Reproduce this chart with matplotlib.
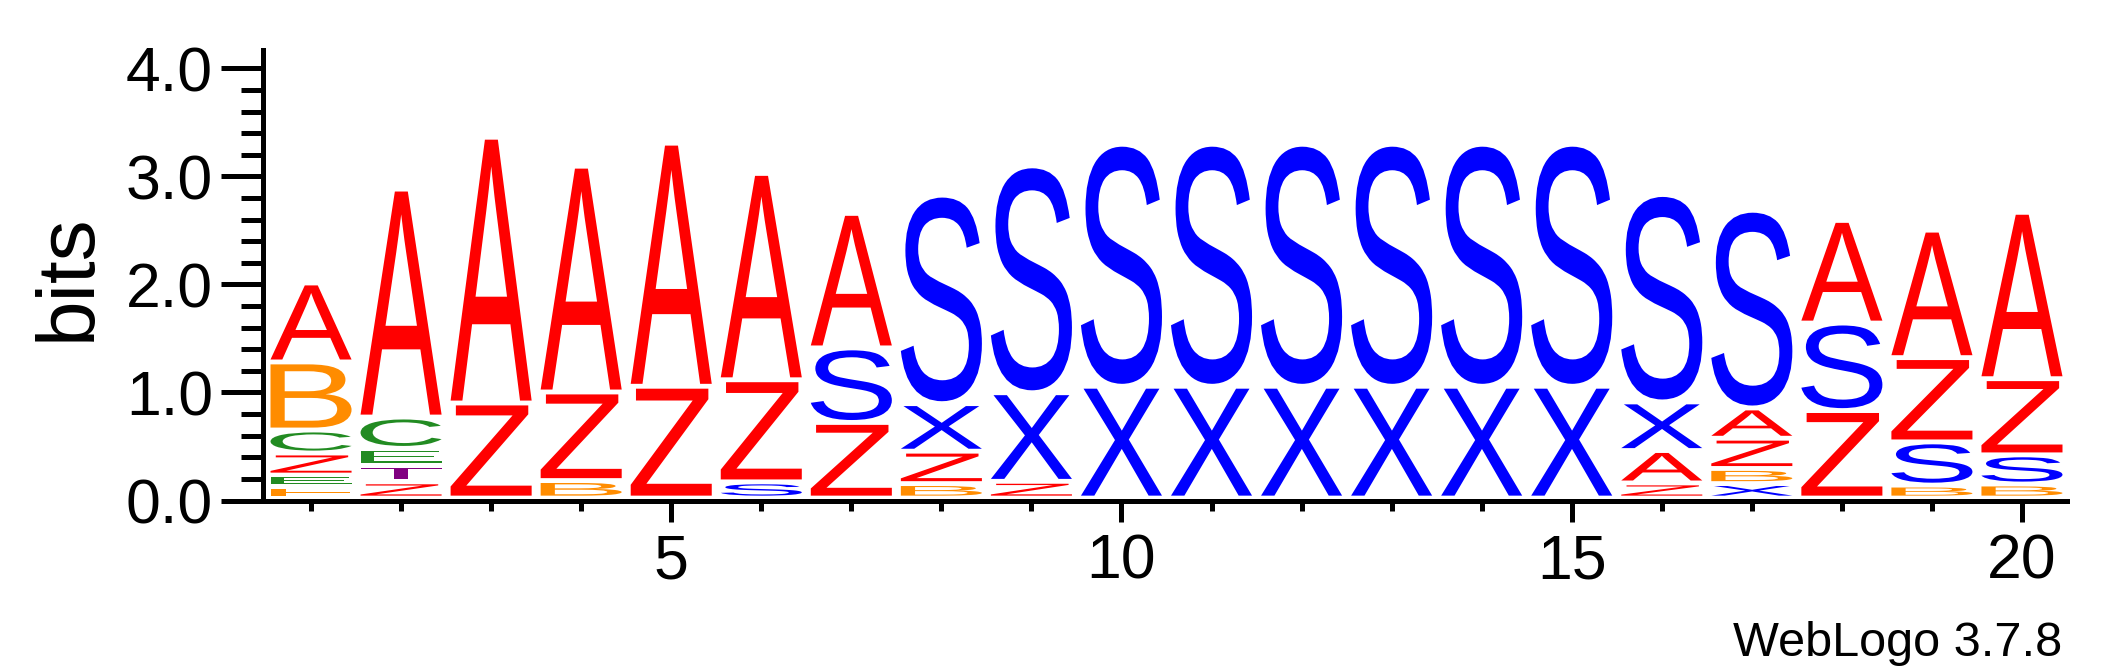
import matplotlib
matplotlib.use("Agg")
import matplotlib.pyplot as plt
from matplotlib.textpath import TextPath
from matplotlib.patches import PathPatch
from matplotlib.font_manager import FontProperties
from matplotlib.transforms import Affine2D
from matplotlib.ticker import MultipleLocator, FixedLocator

# ---- data (bottom -> top in each stack) ----
positions = list(range(1, 21))
stack_letters = [
    "FEZCBA", "ZTECA", "ZA", "BZA", "ZA", "SZA", "ZSA", "BZXS", "ZXS",
    "XS", "XS", "XS", "XS", "XS", "XS",
    "ZAXS", "XBZAS", "ZSA", "BSZA", "BSZA",
]
stack_heights = [
    [0.111, 0.102, 0.204, 0.213, 0.630, 0.731],
    [0.150, 0.155, 0.155, 0.290, 2.110],
    [0.880, 2.460],
    [0.162, 0.820, 2.090],
    [1.035, 2.250],
    [0.150, 0.945, 1.910],
    [0.700, 0.690, 1.245],
    [0.134, 0.300, 0.440, 1.930],
    [0.155, 0.820, 2.100],
    [1.035, 2.240],
    [1.035, 2.240],
    [1.035, 2.240],
    [1.035, 2.240],
    [1.035, 2.240],
    [1.035, 2.240],
    [0.140, 0.300, 0.450, 1.920],
    [0.134, 0.140, 0.280, 0.280, 1.830],
    [0.810, 0.810, 0.950],
    [0.120, 0.400, 0.780, 1.180],
    [0.130, 0.270, 0.705, 1.540],
]
letter_colors = {
    "A": "#FF0000", "Z": "#FF0000",
    "S": "#0000FF", "X": "#0000FF",
    "B": "#FF8C00", "F": "#FF8C00",
    "C": "#228B22", "E": "#228B22",
    "T": "#800080",
}
y_major = [0.0, 1.0, 2.0, 3.0, 4.0]
y_labels = ["0.0", "1.0", "2.0", "3.0", "4.0"]
x_major = [5, 10, 15, 20]

W, H = 2117, 667
fig = plt.figure(figsize=(W / 100, H / 100), dpi=100)
ax = fig.add_axes([266 / W, 1 - 500.5 / H, (2067 - 266) / W, (500.5 - 50) / H])
ax.set_xlim(0.5, 20.5)
ax.set_ylim(0, 4.17)

fp = FontProperties(family="Liberation Sans")
glyph_w = 0.9
gap = 0.045


def draw_letter(ch, xc, y0, h, color):
    tp = TextPath((0, 0), ch, size=100, prop=fp)
    bb = tp.get_extents()
    t = (Affine2D().translate(-bb.x0, -bb.y0)
         .scale(glyph_w / bb.width, h / bb.height)
         .translate(xc - glyph_w / 2, y0))
    ax.add_patch(PathPatch(t.transform_path(tp), facecolor=color,
                           edgecolor="none", lw=0, zorder=2))


for pos, letters, heights in zip(positions, stack_letters, stack_heights):
    cum = 0.0
    for ch, h in zip(letters, heights):
        gh = max(h - gap, 0.01)
        draw_letter(ch, pos, cum + gap, gh, letter_colors[ch])
        cum += h

for s in ("top", "right"):
    ax.spines[s].set_visible(False)
ax.spines["left"].set_position(("outward", 2.5))
ax.spines["left"].set_linewidth(3.6)
ax.spines["bottom"].set_linewidth(3.6)
ax.spines["bottom"].set_zorder(3)

ax.yaxis.set_major_locator(FixedLocator(y_major))
ax.set_yticklabels(y_labels)
ax.yaxis.set_minor_locator(MultipleLocator(0.2))
ax.xaxis.set_major_locator(FixedLocator(x_major))
ax.xaxis.set_minor_locator(MultipleLocator(1))

tick_font = "Liberation Sans"
ax.tick_params(axis="y", which="major", length=30.5, width=3.6, labelsize=45, pad=5)
ax.tick_params(axis="y", which="minor", length=15.5, width=3.6)
ax.tick_params(axis="x", which="major", length=15, width=3.6, labelsize=45, pad=8)
ax.tick_params(axis="x", which="minor", length=7.5, width=3.6)
for lab in ax.get_xticklabels() + ax.get_yticklabels():
    lab.set_fontfamily(tick_font)

fig.text(69 / W, 1 - 277 / H, "bits", rotation=90, ha="center", va="center",
         fontsize=59, family="Liberation Sans")
fig.text(2062 / W, 1 - 656 / H, "WebLogo 3.7.8", ha="right", va="baseline",
         fontsize=35, family="Liberation Sans")

fig.savefig("out.png", dpi=100)
